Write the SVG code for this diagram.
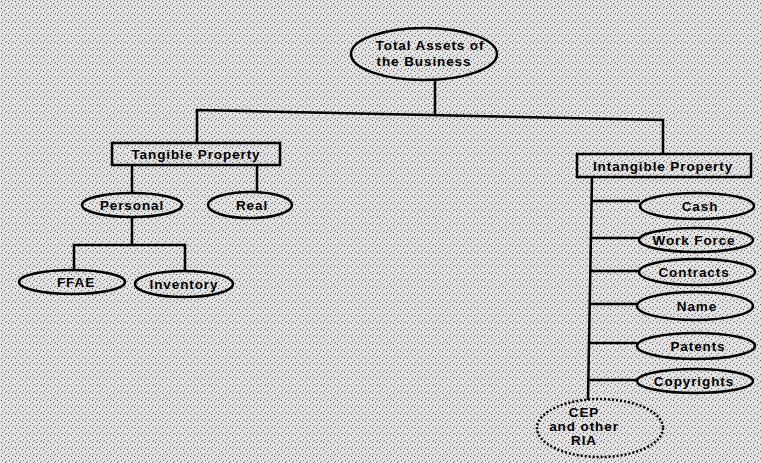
<svg xmlns="http://www.w3.org/2000/svg" width="761" height="463" viewBox="0 0 761 463">
<defs>
<pattern id="stip" width="7" height="7" patternUnits="userSpaceOnUse">
<rect width="7" height="7" fill="#e2e2e2"/>
<rect x="1" y="1" width="1" height="1" fill="#444"/>
<rect x="4" y="3" width="1" height="1" fill="#555"/>
<rect x="2" y="5" width="1" height="1" fill="#666"/>
<rect x="6" y="6" width="1" height="1" fill="#777"/>
<rect x="5" y="0" width="1" height="1" fill="#888"/>
</pattern>
<style>
.n{fill:none;stroke:#000;stroke-width:2.5}
.d{fill:none;stroke:#000;stroke-width:2.5;stroke-dasharray:2 2}
.c{fill:none;stroke:#000;stroke-width:2.5}
text{font-family:"Liberation Sans",Arial,sans-serif;font-weight:bold;font-size:13.5px;letter-spacing:0.9px;fill:#000;text-anchor:middle}
</style>
</defs>
<rect width="761" height="463" fill="url(#stip)"/>
<g id="connectors">
<path class="c" d="M435,80 V115"/>
<path class="c" d="M197,143 V110 L663,120 V154"/>
<path class="c" d="M132,165 V193"/>
<path class="c" d="M257,165 V192"/>
<path class="c" d="M132,217 V245"/>
<path class="c" d="M74,270 V245 H185 V271"/>
<path class="c" d="M592,177 L588,400"/>
<path class="c" d="M592,201 H640"/>
<path class="c" d="M591,238 H639"/>
<path class="c" d="M590,271 H638"/>
<path class="c" d="M590,304 H637"/>
<path class="c" d="M589,343 H637"/>
<path class="c" d="M588,380 H637"/>
</g>
<g id="total"><ellipse class="n" cx="424" cy="54" rx="73" ry="26"/><text x="430" y="50">Total Assets of</text><text x="424" y="66">the Business</text></g>
<g id="tangible"><rect class="n" x="112" y="143" width="168" height="22"/><text x="196" y="159">Tangible Property</text></g>
<g id="intangible"><rect class="n" x="577" y="154" width="174" height="23"/><text x="663" y="171">Intangible Property</text></g>
<g id="personal"><ellipse class="n" cx="132" cy="205" rx="50" ry="12"/><text x="132" y="210">Personal</text></g>
<g id="real"><ellipse class="n" cx="250" cy="205" rx="42" ry="13"/><text x="252" y="210">Real</text></g>
<g id="ffae"><ellipse class="n" cx="72" cy="282" rx="53" ry="12"/><text x="76" y="287">FFAE</text></g>
<g id="inventory"><ellipse class="n" cx="184" cy="284" rx="49" ry="13"/><text x="184" y="289">Inventory</text></g>
<g id="cash"><ellipse class="n" cx="697" cy="206" rx="57" ry="13"/><text x="700" y="211">Cash</text></g>
<g id="workforce"><ellipse class="n" cx="696" cy="240" rx="57" ry="12"/><text x="694" y="245">Work Force</text></g>
<g id="contracts"><ellipse class="n" cx="697" cy="272" rx="58" ry="13"/><text x="694" y="277">Contracts</text></g>
<g id="name"><ellipse class="n" cx="695" cy="306" rx="58" ry="14"/><text x="697" y="311">Name</text></g>
<g id="patents"><ellipse class="n" cx="696" cy="346" rx="59" ry="13"/><text x="698" y="351">Patents</text></g>
<g id="copyrights"><ellipse class="n" cx="695" cy="381" rx="58" ry="12"/><text x="694" y="386">Copyrights</text></g>
<g id="cep"><ellipse class="d" cx="600" cy="428" rx="63" ry="29"/><text x="584" y="417">CEP</text><text x="584" y="431">and other</text><text x="584" y="445">RIA</text></g>
</svg>
